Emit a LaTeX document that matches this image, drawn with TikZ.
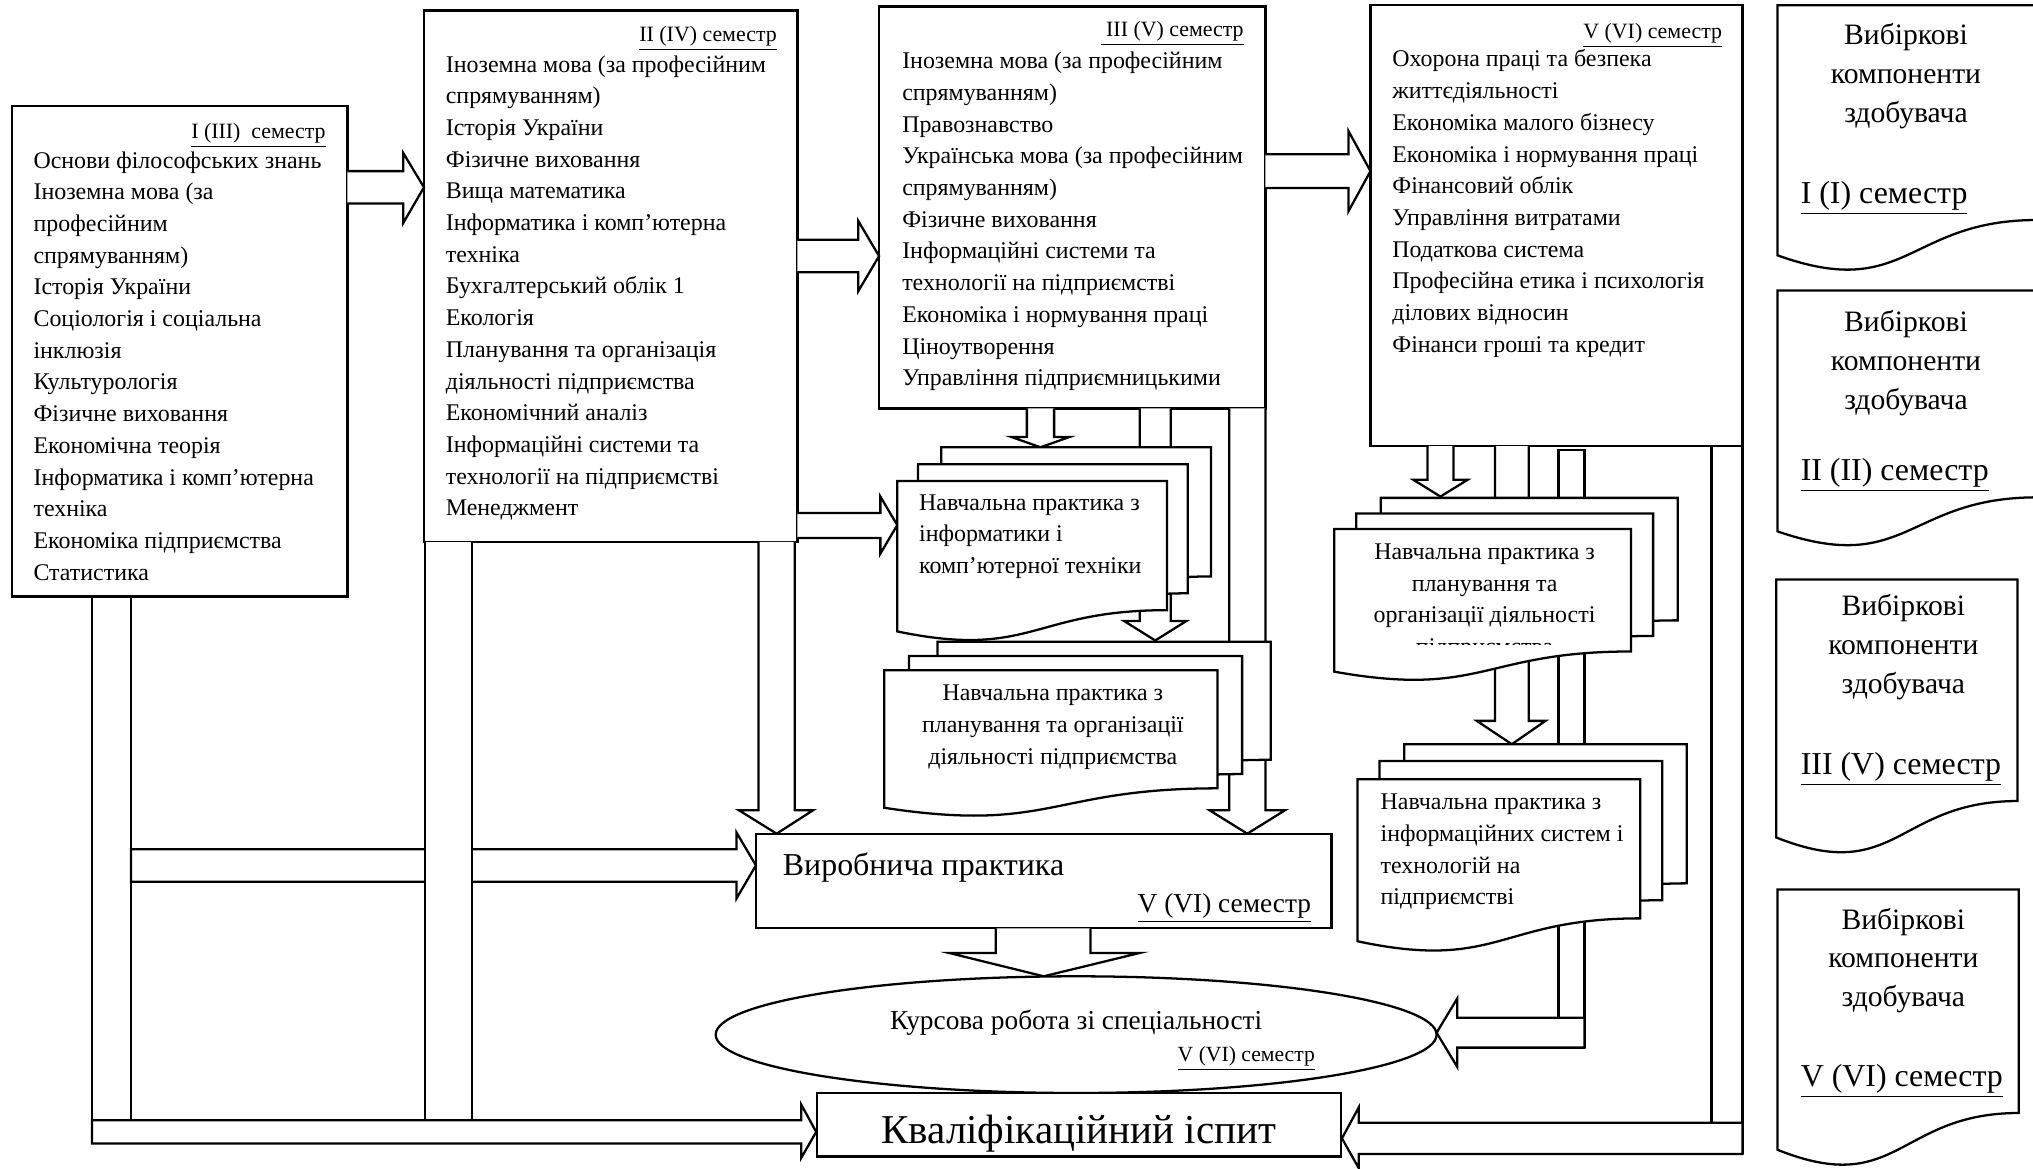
\documentclass[tikz,border=0pt]{standalone}
\usepackage{fontspec}
\setmainfont{Liberation Serif}
\usepackage{tikz}

% document-like sheet with a wavy lower edge: x0, y0, width, height
\newcommand{\docshape}[4]{%
  \draw[docbox] (#1,#2) -- ({#1+#3},#2) -- ({#1+#3},{#2+0.802*#4})
    .. controls ({#1+0.5*#3},{#2+0.802*#4}) and ({#1+0.5*#3},{#2+1.1075*#4}) .. (#1,{#2+0.934*#4}) -- cycle;}

\begin{document}
\begin{tikzpicture}[x=0.02cm,y=-0.02cm,line width=1pt,line join=miter,
  box/.style={draw,fill=white},
  blk/.style={draw,fill=white},
  docbox/.style={draw,fill=white},
  item/.style={anchor=base west,inner sep=0pt,align=left,font=\fontsize{10.5}{13.91}\selectfont},
  itemc/.style={anchor=base,inner sep=0pt,align=center,font=\fontsize{10.5}{13.91}\selectfont},
  ttl/.style={anchor=base east,inner sep=0pt,font=\fontsize{9.6}{11}\selectfont},
  choice/.style={anchor=base,inner sep=0pt,align=center,font=\fontsize{13}{17.1}\selectfont},
  choicesem/.style={anchor=base west,inner sep=0pt,font=\fontsize{14}{16}\selectfont}]
\useasboundingbox (0,0) rectangle (1568,901);

%Semester boxes
\draw[box] (9,82) rectangle (268,460);
\draw[box] (327,8) rectangle (615,418);
\draw[box] (678,5) rectangle (976,315);
\draw[box] (1057,4) rectangle (1344,344);

%Block arrows between semesters
\draw[blk] (268,132) -- (311,132) -- (311,118) -- (327,144.5) -- (311,172) -- (311,157) -- (268,157);
\draw[blk] (615,185) -- (662,185) -- (662,170.5) -- (678,197.5) -- (662,224.5) -- (662,210) -- (615,210);
\draw[blk] (976,119) -- (1040,119) -- (1040,101) -- (1057,132) -- (1040,163) -- (1040,145) -- (976,145);
\draw[blk] (615,395.6) -- (679,395.6) -- (679,383) -- (692,405) -- (679,427) -- (679,415) -- (615,415);

%Down arrows (partly hidden behind the practice sheets)
\draw[blk] (792,315) -- (792,337) -- (780,337) -- (802.5,345) -- (825,337) -- (813,337) -- (813,315);
\draw[blk] (879,315) -- (879,479) -- (867,479) -- (891,494) -- (915,479) -- (903,479) -- (903,315);
\draw[blk] (948,315) -- (948,625) -- (933,625) -- (962,643) -- (991,625) -- (976,625) -- (976,315);
\draw[blk] (585,418) -- (585,625) -- (570,625) -- (599,643) -- (627,625) -- (613,625) -- (613,418);
\draw[blk] (1101,344) -- (1101,370) -- (1090,370) -- (1111,383) -- (1132,370) -- (1121,370) -- (1121,344);
\draw[blk] (1153,344) -- (1153,556) -- (1139,556) -- (1166,574) -- (1192,556) -- (1179,556) -- (1179,344);
\draw[blk] (1202,785) -- (1202,347) -- (1222,347) -- (1222,808);
\draw (1320,344) -- (1320,866) (1344,344) -- (1344,890);
\draw (71,460) -- (71,882) (101,460) -- (101,864);

%Practice sheets, three per stack
\docshape{726}{345}{208}{124.2}
\docshape{708}{358}{208}{124.2}
\docshape{692}{371}{208}{124.2}
\docshape{723}{495}{257}{113.5}
\docshape{701}{506}{257}{113.5}
\docshape{682}{517}{257}{113.5}
\docshape{1065}{384}{229}{117.8}
\docshape{1046}{396}{229}{117.8}
\docshape{1029}{408}{229}{117.8}
\docshape{1083}{574}{218}{133.8}
\docshape{1064}{587}{218}{133.8}
\docshape{1047}{601}{218}{133.8}

%Arrows to the production practice and the exam
\draw[blk] (101,655) -- (568,655) -- (568,642) -- (583,667.5) -- (568,693) -- (568,680) -- (101,680) -- cycle;
\fill[white] (327.6,418) rectangle (364,864);
\draw (327.6,418) -- (327.6,864) (364,418) -- (364,864);
\draw[blk] (71,864) -- (618,864) -- (618,852) -- (629.5,873) -- (618,893) -- (618,882) -- (71,882) -- cycle;

\draw[box] (583,643) rectangle (1027,716);
\draw[blk] (768,716) -- (768,735) -- (732,735) -- (805,753) -- (879,735) -- (841,735) -- (841,716);
\draw[box] (830,798) ellipse [x radius=278,y radius=45];
\draw[box] (630,843) rectangle (1034,892);
\draw[blk] (1222,785) -- (1124,785) -- (1124,770) -- (1108,796.5) -- (1124,823) -- (1124,808) -- (1222,808) -- cycle;
\draw[blk] (1344,866) -- (1048,866) -- (1048,854) -- (1035,878) -- (1048,901) -- (1048,890) -- (1344,890) -- cycle;

%Elective components
\docshape{1371}{4}{200}{206.6}
\docshape{1371}{224}{200}{199}
\docshape{1370}{447}{186}{213}
\docshape{1371}{686}{186}{215}

% Text Node (multi-line nodes sit on the baseline of their last line)
\node[ttl] (ttlI) at (252,106.8) {\underline{I (III)\ \ семестр}};
\node[item] (listI) at (25,447.4) {Основи філософських знань\\Іноземна мова (за\\професійним\\спрямуванням)\\Історія України\\Соціологія і соціальна\\інклюзія\\Культурологія\\Фізичне виховання\\Економічна теорія\\Інформатика і комп’ютерна\\техніка\\Економіка підприємства\\Статистика};
% Text Node
\node[ttl] (ttlII) at (600,32) {\underline{II (IV) семестр}};
\node[item] (listII) at (343,397.8) {Іноземна мова (за професійним\\спрямуванням)\\Історія України\\Фізичне виховання\\Вища математика\\Інформатика і комп’ютерна\\техніка\\Бухгалтерський облік 1\\Екологія\\Планування та організація\\діяльності підприємства\\Економічний аналіз\\Інформаційні системи та\\технології на підприємстві\\Менеджмент};
% Text Node
\node[ttl] (ttlIII) at (960,28) {\underline{\ III (V) семестр}};
\node[item] (listIII) at (695,297.5) {Іноземна мова (за професійним\\спрямуванням)\\Правознавство\\Українська мова (за професійним\\спрямуванням)\\Фізичне виховання\\Інформаційні системи та\\технології на підприємстві\\Економіка і нормування праці\\Ціноутворення\\Управління підприємницькими};
% Text Node
\node[ttl] (ttlV) at (1329,29.6) {\underline{V (VI) семестр}};
\node[item] (listV) at (1073,271.6) {Охорона праці та безпека\\життєдіяльності\\Економіка малого бізнесу\\Економіка і нормування праці\\Фінансовий облік\\Управління витратами\\Податкова система\\Професійна етика і психологія\\ділових відносин\\Фінанси гроші та кредит};

% Text Node
\node[item] (pracInf) at (708,442.4) {Навчальна практика з\\інформатики і\\комп’ютерної техніки};
\node[itemc] (pracPlan) at (812,589.4) {Навчальна практика з\\планування та організації\\діяльності підприємства};
\begin{scope}
\clip (1029,408) rectangle (1258,497);
\node[itemc] (pracPlanV) at (1145,504.85) {Навчальна практика з\\планування та\\організації діяльності\\підприємства};
\end{scope}
\node[item] (pracIS) at (1064,697.85) {Навчальна практика з\\інформаційних систем і\\технологій на\\підприємстві};

% Text Node
\node[anchor=base west,inner sep=0pt,font=\fontsize{14}{16}\selectfont] (vyr) at (603,675) {Виробнича практика};
\node[anchor=base east,inner sep=0pt,font=\fontsize{12}{14}\selectfont] (vyrSem) at (1012,704) {\underline{V (VI) семестр}};
\node[anchor=base,inner sep=0pt,font=\fontsize{12}{14}\selectfont] (kurs) at (830,794) {Курсова робота зі спеціальності};
\node[anchor=base east,inner sep=0pt,font=\fontsize{9.5}{11}\selectfont] (kursSem) at (1015,818.5) {\underline{V (VI) семестр}};
\node[anchor=base,inner sep=0pt,font=\fontsize{18}{20}\selectfont] (exam) at (832,882) {Кваліфікаційний іспит};

% Text Node
\node[choice] (vybI) at (1470,94.6) {Вибіркові\\компоненти\\здобувача};
\node[choicesem] (semI) at (1388,157) {\underline{I (I) семестр}};
\node[choice] (vybII) at (1470,315.6) {Вибіркові\\компоненти\\здобувача};
\node[choicesem] (semII) at (1388,370.5) {\underline{II (II) семестр}};
\node[choice] (vybIII) at (1468,535.1) {Вибіркові\\компоненти\\здобувача};
\node[choicesem] (semIII) at (1388,597) {\underline{III (V) семестр}};
\node[choice] (vybV) at (1468,776.6) {Вибіркові\\компоненти\\здобувача};
\node[choicesem] (semV) at (1388,838) {\underline{V (VI) семестр}};
\end{tikzpicture}
\end{document}
